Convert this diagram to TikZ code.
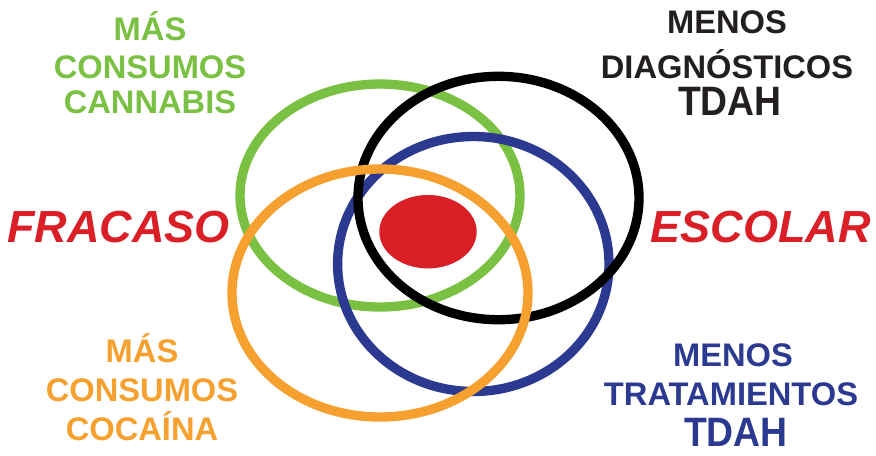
\documentclass[tikz,border=0pt]{standalone}
\usepackage{fontspec}
\setmainfont{Liberation Sans}
\usetikzlibrary{shapes.geometric}
\definecolor{vGreen}{HTML}{7AC143}
\definecolor{vBlack}{HTML}{000000}
\definecolor{vInk}{HTML}{231F20}
\definecolor{vBlue}{HTML}{2B3990}
\definecolor{vOrange}{HTML}{F6A12F}
\definecolor{vRed}{HTML}{DA1F26}
\newcommand{\tallword}[1]{\scalebox{1}[1.1]{#1}}
\tikzset{
  ring/.style   ={draw,ellipse,line width=7pt,inner sep=0pt},
  core/.style   ={ellipse,fill=vRed,inner sep=0pt},
  lbl/.style    ={font=\fontsize{24.5}{28}\selectfont\bfseries,anchor=base,inner sep=0pt},
  biglbl/.style ={font=\fontsize{28}{32}\selectfont\bfseries,anchor=base,inner sep=0pt},
  side/.style   ={font=\fontsize{33.75}{38}\selectfont\bfseries\itshape,text=vRed,inner sep=0pt},
}
\begin{document}
\begin{tikzpicture}[x=0.75pt,y=-0.75pt]
\useasboundingbox (0,0) rectangle (876,455);
%% rings, bottom to top
\node[ring,draw=vGreen,minimum width=210pt,minimum height=167.25pt]   (cannabis) at (380,195.5) {};
\node[ring,draw=vBlue,minimum width=203.55pt,minimum height=191.25pt] (trat)     at (473.3,264) {};
\node[ring,draw=vBlack,minimum width=210.75pt,minimum height=182.55pt](diag)     at (498.5,198) {};
\node[ring,draw=vOrange,minimum width=222pt,minimum height=186pt]     (cocaina)  at (380,293) {};
\node[core,minimum width=73.05pt,minimum height=55.05pt]              (centro)   at (428,231.7) {};
%% labels
\foreach \t/\y [count=\i] in {MÁS/40.7, CONSUMOS/78, CANNABIS/113}
  \node[lbl,text=vGreen] (cannabisT\i) at (150,\y) {\t};
\foreach \t/\y [count=\i] in {MÁS/362.7, CONSUMOS/401, COCAÍNA/440}
  \node[lbl,text=vOrange] (cocainaT\i) at (142,\y) {\t};
\node[lbl,text=vInk]     (diagT1) at (727,33.3) {MENOS};
\node[lbl,text=vInk]     (diagT2) at (727,78)   {DIAGNÓSTICOS};
\node[biglbl,text=vInk]  (diagT3) at (730,115)  {\tallword{TDAH}};
\node[lbl,text=vBlue]    (tratT1) at (733,366.7){MENOS};
\node[lbl,text=vBlue]    (tratT2) at (731,405)  {TRATAMIENTOS};
\node[biglbl,text=vBlue] (tratT3) at (736,446.7){\tallword{TDAH}};
\node[side,anchor=base west] (fracaso) at (7,242)   {FRACASO};
\node[side,anchor=base east] (escolar) at (871,242) {ESCOLAR};
\end{tikzpicture}
\end{document}
